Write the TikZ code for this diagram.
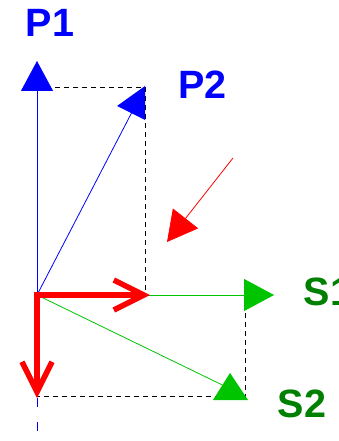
\documentclass[tikz,border=0pt]{standalone}
\usepackage{fontspec}
\setmainfont{Liberation Sans}
\usetikzlibrary{arrows.meta}
\definecolor{sgreen}{RGB}{0,196,0}
\definecolor{tgreen}{RGB}{0,128,0}
\tikzset{
  vec/.style={line width=0.8pt},
  head/.style={-{Triangle[length=30pt,width=32pt]}},
  bigred/.style={red, line width=5.5pt, -{Straight Barb[length=30pt,width=30pt]}},
  frame/.style={line width=0.8pt, dash pattern=on 5pt off 4pt},
  lbl/.style={font=\bfseries\fontsize{39.5}{39.5}\selectfont, inner sep=0pt, anchor=base west}
}
\begin{document}
\begin{tikzpicture}[x=1pt, y=-1pt]
  \useasboundingbox (0,0) rectangle (339,441);
  % points of the construction
  \coordinate (O) at (37,295);
  \coordinate (p1) at (37,87);
  \coordinate (p1tip) at (37,61);
  \coordinate (p2) at (145,87);
  \coordinate (px) at (145,295);
  \coordinate (s1) at (245,295);
  \coordinate (s1tip) at (274,295);
  \coordinate (s2) at (245,396);
  \coordinate (sy) at (37,396);
  \coordinate (rh) at (150,295);
  \coordinate (rv) at (37,398);
  \coordinate (bot) at (37,441);
  \coordinate (ra) at (233,158);
  \coordinate (rb) at (167,242);
  % dashed projections
  \draw[frame] (p1) -- (p2) -- (px);
  \draw[frame] (s1) -- (s2) -- (sy);
  % P vectors (blue)
  \draw[vec, blue, head] (O) -- (p1tip);
  \draw[vec, blue] (O) -- (p2);
  \fill[blue] (117,106) -- (145,86) -- (145,120) -- cycle;
  \draw[vec, blue, dash pattern=on 9pt off 15pt] (rv) -- (bot);
  % S vectors (green)
  \draw[vec, sgreen, head] (O) -- (s1tip);
  \draw[vec, sgreen] (O) -- (s2);
  \fill[sgreen] (213,400) -- (230,373) -- (248,400) -- cycle;
  % incoming ray
  \draw[vec, red, head] (ra) -- (rb);
  % red axes
  \draw[bigred] ([xshift=-2.75pt]O) -- (rh);
  \draw[bigred] ([yshift=2.75pt]O) -- (rv);
  % labels
  \node[lbl, blue] (P1) at (25.5,37) {P1};
  \node[lbl, blue] (P2) at (178,99) {P2};
  \node[lbl, tgreen] (S1) at (303.5,305) {S1};
  \node[lbl, tgreen] (S2) at (277.5,417) {S2};
\end{tikzpicture}
\end{document}
